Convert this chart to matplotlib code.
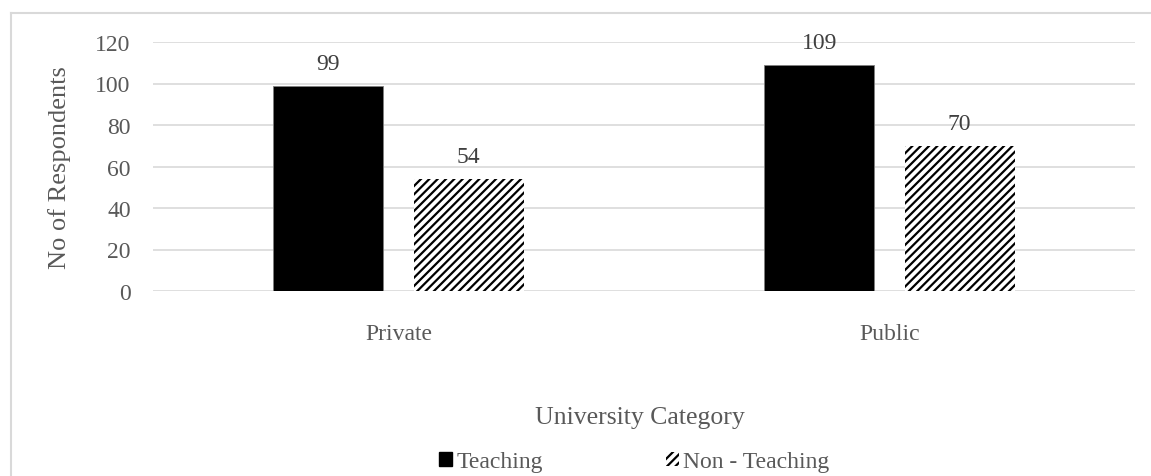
import numpy as np
from matplotlib import pyplot as plt
from matplotlib.patches import Patch
from matplotlib.lines import Line2D

categories = ["Private", "Public"]
teaching = [99, 109]
non_teaching = [54, 70]
y_ticks = [0, 20, 40, 60, 80, 100, 120]

text_color = "#595959"
grid_color = "#d9d9d9"

plt.rcParams["font.family"] = ["Liberation Serif", "DejaVu Serif"]
plt.rcParams["hatch.linewidth"] = 1.6

W, H = 1151, 477
fig = plt.figure(figsize=(W / 100, H / 100), dpi=100)
ax = fig.add_axes([153 / W, 1 - 292 / H, (1135 - 153) / W, (292 - 43) / H])

x = np.arange(len(categories))
width = 0.224
off = 0.1426
b1 = ax.bar(x - off, teaching, width, color="black", edgecolor="#7f7f7f", linewidth=0.6, zorder=3)
b2 = ax.bar(x + off, non_teaching, width, color="white", edgecolor="black", linewidth=0,
            hatch="////", zorder=3)

for bars in (b1, b2):
    for r in bars:
        ax.annotate(str(int(r.get_height())), (r.get_x() + r.get_width() / 2, r.get_height()),
                    xytext=(0, 12), textcoords="offset points", ha="center", va="baseline",
                    fontsize=17, color="#404040")

ax.set_xlim(-0.5, 1.5)
ax.set_ylim(0, 120)
ax.set_yticks(y_ticks)
ax.set_xticks(x)
ax.set_xticklabels(categories)
ax.tick_params(axis="both", length=0, labelsize=17, labelcolor=text_color)
ax.tick_params(axis="y", pad=16)
ax.tick_params(axis="x", pad=23)
ax.grid(axis="y", color=grid_color, linewidth=1.2, zorder=0)
for s in ax.spines.values():
    s.set_visible(False)

fig.text(60 / W, 1 - 168 / H, "No of Respondents", rotation=90, ha="center", va="center",
         fontsize=19, color=text_color)
fig.text(640 / W, 1 - 418 / H, "University Category", ha="center", va="center",
         fontsize=18.5, color=text_color)

handles = [Patch(facecolor="black", edgecolor="black"),
           Patch(facecolor="white", edgecolor="black", linewidth=0, hatch="////")]
fig.legend(handles, ["Teaching", "Non - Teaching"], loc="center", bbox_to_anchor=(634 / W, 1 - 463 / H),
           ncol=2, frameon=False, fontsize=17, labelcolor=text_color, handlelength=0.55,
           handleheight=0.55, handletextpad=0.2, columnspacing=5.2, borderaxespad=0)

# outer chart frame (top and left edges visible)
fig.add_artist(Line2D([11 / W, 1], [1 - 14 / H, 1 - 14 / H], color=grid_color, linewidth=1.5))
fig.add_artist(Line2D([11 / W, 11 / W], [0, 1 - 14 / H], color=grid_color, linewidth=1.5))

fig.savefig("out.png", dpi=100)
